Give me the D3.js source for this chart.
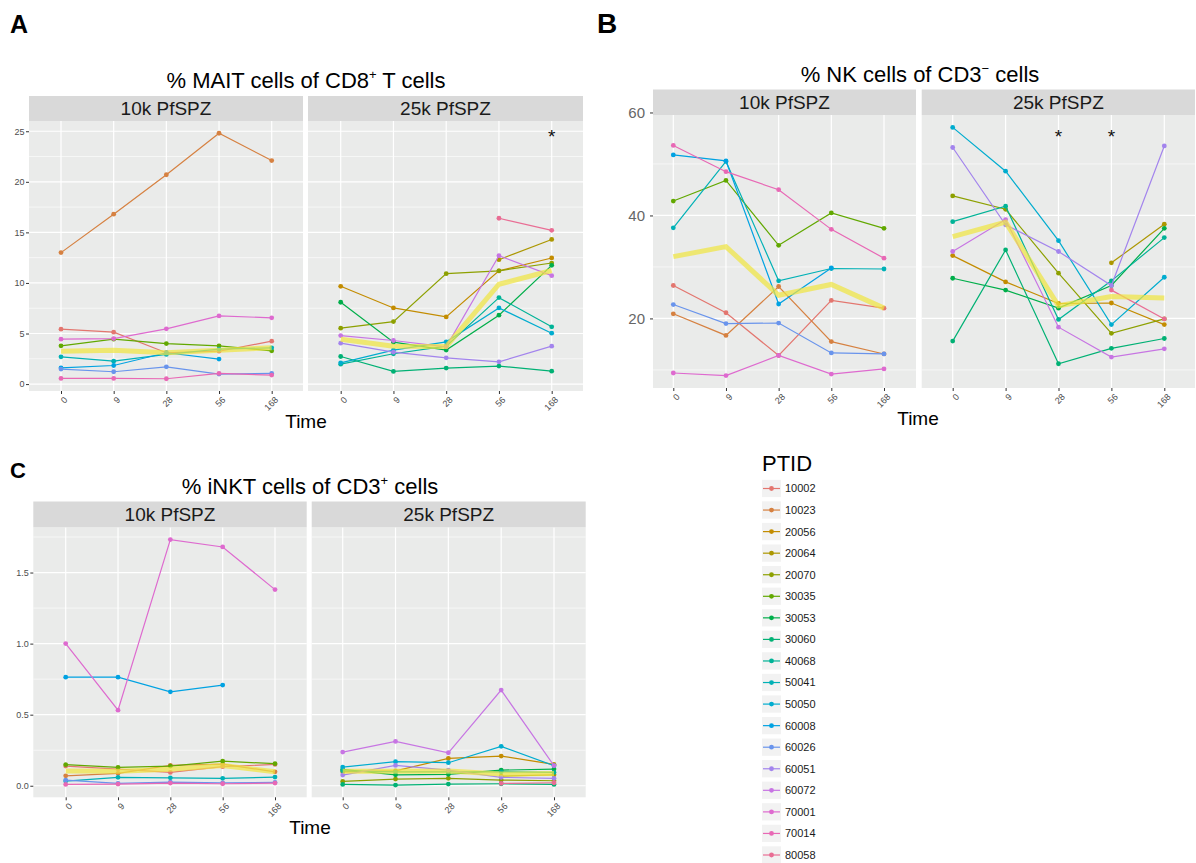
<!DOCTYPE html>
<html>
<head>
<meta charset="utf-8">
<script src="https://cdnjs.cloudflare.com/ajax/libs/d3/7.8.5/d3.min.js"></script>
<style>
  body { margin: 0; background: #fff; }
  svg { display: block; font-family: "Liberation Sans", Arial, Helvetica, sans-serif; }
</style>
</head>
<body>
<div id="chart"></div>
<script>
// data
const timepoints = ["0", "9", "28", "56", "168"]
const doses = ["10k PfSPZ", "25k PfSPZ"]
const ptids = ["10002", "10023", "20056", "20064", "20070", "30035", "30053", "30060", "40068",
  "50041", "50050", "60008", "60026", "60051", "60072", "70001", "70014", "80058"]
const group10k = ["10002", "10023", "30035", "50041", "60008", "60026", "70001", "70014"]
const group25k = ["20056", "20064", "20070", "30053", "30060", "40068", "50050", "60051", "60072", "80058"]

// % MAIT cells of CD8+ T cells (rows follow group order)
const mait10k = [
  [5.43, 5.13, 3.10, 3.25, 4.24],
  [13.0, 16.8, 20.7, 24.8, 22.1],
  [3.78, 4.44, 4.01, 3.78, 3.29],
  [2.70, 2.27, 2.93, 3.45, 3.59],
  [1.61, 1.84, 3.10, 2.47, null],
  [1.48, 1.22, 1.71, 0.99, 1.05],
  [4.44, 4.50, 5.46, 6.74, 6.55],
  [0.56, 0.56, 0.53, 1.05, 0.89]
]
const mait25k = [
  [9.67, 7.53, 6.64, 11.2, 12.47],
  [null, null, null, 12.3, 14.3],
  [5.53, 6.18, 10.92, 11.2, 11.97],
  [8.09, 4.14, 3.36, 6.81, 11.74],
  [2.73, 1.25, 1.58, 1.78, 1.28],
  [1.97, 3.00, 3.75, 8.55, 5.66],
  [2.10, 3.36, 4.18, 7.53, 5.03],
  [4.05, 3.16, 2.60, 2.20, 3.75],
  [4.80, 4.31, 3.68, 12.7, 10.72],
  [null, null, null, 16.4, 15.2]
]

// % NK cells of CD3- cells
const nk10k = [
  [26.4, 21.1, 12.8, 23.5, 22.0],
  [20.9, 16.7, 26.2, 15.5, 13.1],
  [42.8, 46.8, 34.2, 40.5, 37.5],
  [37.6, 50.5, 27.3, 29.7, 29.6],
  [51.75, 50.6, 22.8, 29.8, null],
  [22.7, 19.0, 19.1, 13.3, 13.1],
  [9.4, 8.9, 12.8, 9.2, 10.2],
  [53.6, 48.5, 45.0, 37.3, 31.7]
]
const nk25k = [
  [32.2, 27.1, 22.9, 23.0, 18.8],
  [null, null, null, 30.8, 38.3],
  [43.8, 41.2, 28.8, 17.1, 19.9],
  [27.8, 25.5, 22.0, 26.4, 37.5],
  [15.6, 33.3, 11.2, 14.2, 16.1],
  [38.8, 41.8, 19.8, 27.3, 35.7],
  [57.1, 48.6, 35.1, 18.8, 28.0],
  [53.2, 38.2, 33.0, 26.4, 53.5],
  [33.0, 39.2, 18.3, 12.5, 14.1],
  [null, null, null, 25.5, 19.9]
]

// % iNKT cells of CD3+ cells
const inkt10k = [
  [0.138, 0.117, 0.094, 0.134, 0.150],
  [0.070, 0.087, 0.143, 0.152, 0.098],
  [0.148, 0.129, 0.138, 0.173, 0.155],
  [0.033, 0.059, 0.056, 0.052, 0.061],
  [0.764, 0.764, 0.661, 0.708, null],
  [0.040, 0.016, 0.026, 0.020, 0.023],
  [1.000, 0.532, 1.732, 1.680, 1.380],
  [0.009, 0.012, 0.019, 0.014, 0.019]
]
const inkt25k = [
  [0.098, 0.105, 0.192, 0.209, 0.150],
  [null, null, null, 0.068, 0.077],
  [0.030, 0.047, 0.052, 0.040, 0.035],
  [0.115, 0.077, 0.080, 0.110, 0.117],
  [0.009, 0.005, 0.012, 0.014, 0.009],
  [0.105, 0.098, 0.098, 0.098, 0.094],
  [0.131, 0.169, 0.162, 0.277, 0.141],
  [0.075, 0.143, 0.110, 0.059, 0.052],
  [0.237, 0.312, 0.232, 0.673, 0.141],
  [null, null, null, 0.016, 0.021]
]

const maitTicks = [0, 5, 10, 15, 20, 25]
const nkTicks = [20, 40, 60]
const inktTicks = [0, 0.5, 1.0, 1.5]

// significance marks: [dose, timepoint, y value]
const maitStars = [["25k PfSPZ", "168", 24.7]]
const nkStars = [["25k PfSPZ", "28", 55.8], ["25k PfSPZ", "56", 55.8]]

// ggplot2 style hue palette (R hcl, polarLUV), a bit muted like the scan
const hclR = (h, c, l) => {
  const WY = 100, Wu = 0.1978398, Wv = 0.4683363
  const hr = h * Math.PI / 180
  const U = c * Math.cos(hr), V = c * Math.sin(hr)
  const Y = WY * (l > 7.999592 ? Math.pow((l + 16) / 116, 3) : l / 903.3)
  const u = U / (13 * l) + Wu, v = V / (13 * l) + Wv
  const X = 9 * Y * u / (4 * v)
  const Z = -X / 3 - 5 * Y + 3 * Y / v
  const g = t => t > 0.00304 ? 1.055 * Math.pow(t, 1 / 2.4) - 0.055 : 12.92 * t
  const ch = t => Math.round(255 * Math.max(0, Math.min(1, g(t))))
  return d3.rgb(
    ch((3.240479 * X - 1.537150 * Y - 0.498535 * Z) / WY),
    ch((-0.969256 * X + 1.875992 * Y + 0.041556 * Z) / WY),
    ch((0.055648 * X - 0.204043 * Y + 1.057311 * Z) / WY)).formatHex()
}
const color = d3.scaleOrdinal()
  .domain(ptids)
  .range(ptids.map((p, i) => hclR(15 + 360 * i / ptids.length, 82, 62)))

const width = 1196
const height = 863

const svg = d3.select("#chart")
  .append("svg")
  .attr("width", width)
  .attr("height", height)

// panel layouts
const panels = [
  {
    letter: "A", letterX: 10, letterY: 33, letterSize: 25,
    title: ["% MAIT cells of CD8", "+", " T cells"], titleX: 306, titleY: 88,
    stripTop: 96, top: 121, bottom: 391,
    facets: [{ left: 29, right: 303, pts: [61, 271.7] }, { left: 308, right: 583, pts: [340.7, 551.7] }],
    data: [mait10k, mait25k], ticks: maitTicks, fmt: d3.format("d"), tickSize: 9, tickColor: "#4d4d4d", tickGap: 4.5,
    timeX: 306, timeY: 428, stars: maitStars
  },
  {
    letter: "B", letterX: 597, letterY: 33, letterSize: 28,
    title: ["% NK cells of CD3", "\u2212", " cells"], titleX: 920, titleY: 82,
    stripTop: 89.5, top: 115, bottom: 388,
    facets: [{ left: 653, right: 916, pts: [673.3, 884] }, { left: 921.7, right: 1195, pts: [952.7, 1164.3] }],
    data: [nk10k, nk25k], ticks: nkTicks, fmt: d3.format("d"), tickSize: 15, tickColor: "#666", tickGap: 8,
    timeX: 918, timeY: 425, stars: nkStars
  },
  {
    letter: "C", letterX: 10, letterY: 478, letterSize: 22,
    title: ["% iNKT cells of CD3", "+", " cells"], titleX: 310, titleY: 494,
    stripTop: 501.5, top: 527.3, bottom: 797.3,
    facets: [{ left: 33.3, right: 306.7, pts: [65.7, 275] }, { left: 311.7, right: 585.7, pts: [342.7, 554] }],
    data: [inkt10k, inkt25k], ticks: inktTicks, fmt: d3.format(".1f"), tickSize: 9, tickColor: "#4d4d4d", tickGap: 4.5,
    timeX: 310, timeY: 834, stars: []
  }
]

const groups = [group10k, group25k]

panels.forEach(p => {
  const g = svg.append("g")

  // y scale shared across facets, 5% expansion like ggplot
  const allValues = p.data.flat(2).filter(v => v != null)
  const [lo, hi] = d3.extent(allValues)
  const pad = (hi - lo) * 0.05
  const y = d3.scaleLinear().domain([lo - pad, hi + pad]).range([p.bottom, p.top])
  const [d0, d1] = y.domain()

  const major = p.ticks.filter(t => t >= d0 && t <= d1)
  const step = p.ticks[1] - p.ticks[0]
  const minor = d3.range(p.ticks[0] - step / 2, d1, step).filter(t => t >= d0 && t <= d1)

  // letter and title
  g.append("text")
    .attr("x", p.letterX).attr("y", p.letterY)
    .attr("font-size", p.letterSize).attr("font-weight", "bold")
    .text(p.letter)

  const title = g.append("text")
    .attr("x", p.titleX).attr("y", p.titleY)
    .attr("text-anchor", "middle").attr("font-size", 22).attr("fill", "#000")
  title.append("tspan").text(p.title[0])
  title.append("tspan").attr("dy", -9).attr("font-size", 13).text(p.title[1])
  title.append("tspan").attr("dy", 9).text(p.title[2])

  g.append("text")
    .attr("x", p.timeX).attr("y", p.timeY)
    .attr("text-anchor", "middle").attr("font-size", 19)
    .text("Time")

  p.facets.forEach((f, fi) => {
    const fg = g.append("g")
    const x = d3.scalePoint().domain(timepoints).range(f.pts)

    // panel background + grid
    fg.append("rect")
      .attr("x", f.left).attr("y", p.top)
      .attr("width", f.right - f.left).attr("height", p.bottom - p.top)
      .attr("fill", "#eaebea")

    fg.selectAll(".minor").data(minor).enter().append("line")
      .attr("x1", f.left).attr("x2", f.right)
      .attr("y1", d => y(d)).attr("y2", d => y(d))
      .attr("stroke", "#fff").attr("stroke-width", 0.6)

    fg.selectAll(".major").data(major).enter().append("line")
      .attr("x1", f.left).attr("x2", f.right)
      .attr("y1", d => y(d)).attr("y2", d => y(d))
      .attr("stroke", "#fff").attr("stroke-width", 1.2)

    fg.selectAll(".vgrid").data(timepoints).enter().append("line")
      .attr("x1", d => x(d)).attr("x2", d => x(d))
      .attr("y1", p.top).attr("y2", p.bottom)
      .attr("stroke", "#fff").attr("stroke-width", 1.2)

    // strip
    fg.append("rect")
      .attr("x", f.left).attr("y", p.stripTop)
      .attr("width", f.right - f.left).attr("height", p.top - p.stripTop)
      .attr("fill", "#d9d9d9")
    fg.append("text")
      .attr("x", (f.left + f.right) / 2).attr("y", (p.stripTop + p.top) / 2)
      .attr("dy", "0.36em").attr("text-anchor", "middle")
      .attr("font-size", 19).attr("fill", "#1a1a1a")
      .text(doses[fi])

    // individual series
    const series = groups[fi].map((id, i) => ({
      id: id,
      values: p.data[fi][i].map((v, k) => ({ t: timepoints[k], v: v }))
    })).sort((a, b) => ptids.indexOf(a.id) - ptids.indexOf(b.id))

    const line = d3.line()
      .defined(d => d.v != null)
      .x(d => x(d.t))
      .y(d => y(d.v))

    const sg = fg.selectAll(".series").data(series).enter().append("g")
    sg.append("path")
      .attr("d", d => line(d.values.filter(e => e.v != null)))
      .attr("fill", "none")
      .attr("stroke", d => color(d.id))
      .attr("stroke-width", 1.2)
    sg.selectAll("circle")
      .data(d => d.values.filter(e => e.v != null).map(e => ({ ...e, id: d.id })))
      .enter().append("circle")
      .attr("cx", d => x(d.t)).attr("cy", d => y(d.v))
      .attr("r", 2.4)
      .attr("fill", d => color(d.id))

    // median line
    const medians = timepoints.map((t, k) => ({
      t: t,
      v: d3.median(p.data[fi], row => row[k])
    }))
    fg.append("path")
      .attr("d", line(medians))
      .attr("fill", "none")
      .attr("stroke", "#f0e442")
      .attr("stroke-opacity", 0.72)
      .attr("stroke-width", 5)

    // stars
    fg.selectAll(".star").data(p.stars.filter(s => s[0] === doses[fi])).enter().append("text")
      .attr("x", d => x(d[1])).attr("y", d => y(d[2]))
      .attr("dy", 9).attr("text-anchor", "middle")
      .attr("font-size", 19).attr("fill", "#111")
      .text("*")

    // x axis
    const xAxis = fg.append("g")
      .attr("transform", `translate(0, ${p.bottom})`)
      .call(d3.axisBottom(x).tickSize(3).tickPadding(2))
    xAxis.select(".domain").remove()
    xAxis.selectAll("line").attr("stroke", "#333")
    xAxis.selectAll("text")
      .attr("x", 0).attr("y", 0).attr("dy", "0.71em")
      .attr("transform", "translate(2, 5) rotate(-45)")
      .attr("text-anchor", "end")
      .attr("font-size", 9)
      .attr("font-family", null)
      .attr("fill", "#4d4d4d")

    // y axis on the first facet
    if (fi === 0) {
      const yAxis = fg.append("g")
        .attr("transform", `translate(${f.left}, 0)`)
        .call(d3.axisLeft(y).tickValues(p.ticks).tickFormat(p.fmt).tickSize(3).tickPadding(p.tickGap - 3))
      yAxis.select(".domain").remove()
      yAxis.selectAll("line").attr("stroke", "#333")
      yAxis.selectAll("text")
        .attr("font-size", p.tickSize)
        .attr("font-family", null)
        .attr("fill", p.tickColor)
    }
  })
})

// legend
const legend = svg.append("g").attr("transform", "translate(762, 0)")
legend.append("text")
  .attr("x", 0).attr("y", 470.5)
  .attr("font-size", 22)
  .text("PTID")

const keyY = d3.scalePoint().domain(ptids).range([488.5, 855])
const keys = legend.selectAll(".key").data(ptids).enter().append("g")
  .attr("transform", d => `translate(0, ${keyY(d)})`)
keys.append("rect")
  .attr("x", 0).attr("y", -8.7).attr("width", 19).attr("height", 17.3)
  .attr("fill", "#f2f2f2")
keys.append("line")
  .attr("x1", 1).attr("x2", 18).attr("y1", 0).attr("y2", 0)
  .attr("stroke", d => color(d)).attr("stroke-width", 1.2)
keys.append("circle")
  .attr("cx", 9.5).attr("cy", 0).attr("r", 2.4)
  .attr("fill", d => color(d))
keys.append("text")
  .attr("x", 23).attr("y", 0).attr("dy", "0.36em")
  .attr("font-size", 11).attr("fill", "#1a1a1a")
  .text(d => d)
</script>
</body>
</html>
